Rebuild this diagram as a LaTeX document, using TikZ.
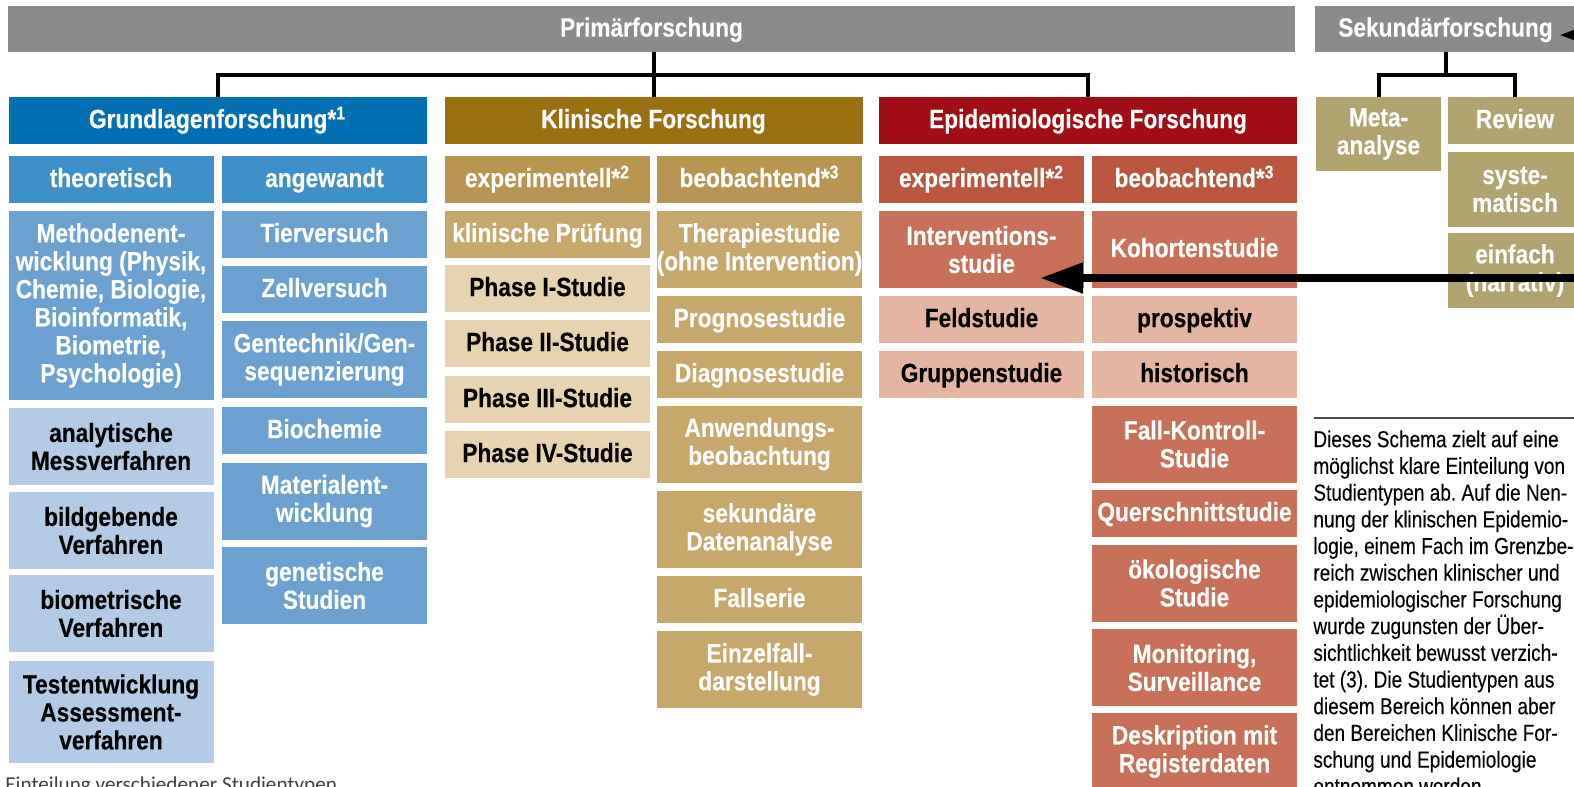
\documentclass[tikz,border=0pt]{standalone}
\usepackage{fontspec}
\usepackage{tikz}
\usetikzlibrary{arrows.meta,calc}
\newfontfamily\kastenfont{Liberation Sans}[FakeStretch=0.86, FakeBold=0.3]
\newfontfamily\fliessfont{Liberation Sans}[FakeStretch=0.82, FakeBold=0.2]
\newfontfamily\unterschriftfont{Carlito}
\definecolor{grau}{RGB}{139,139,141}
\definecolor{blauD}{RGB}{0,112,178}
\definecolor{blauM}{RGB}{63,143,201}
\definecolor{blauH}{RGB}{106,161,209}
\definecolor{blauL}{RGB}{179,203,230}
\definecolor{goldD}{RGB}{154,111,15}
\definecolor{goldM}{RGB}{184,148,80}
\definecolor{goldH}{RGB}{200,167,106}
\definecolor{goldL}{RGB}{231,211,176}
\definecolor{rotD}{RGB}{160,13,20}
\definecolor{rotM}{RGB}{186,86,62}
\definecolor{rotH}{RGB}{200,113,88}
\definecolor{rotL}{RGB}{229,181,162}
\definecolor{khaki}{RGB}{176,163,110}
\tikzset{
    kasten/.style={rectangle, inner sep=0pt, align=center, text=white,
        font=\kastenfont\bfseries\fontsize{13.2pt}{14pt}\selectfont,
        minimum width=102.5pt, minimum height=23.5pt}
}
\tikzset{
    eins/.style={text height=9.6pt, text depth=2pt},
    zwei/.style={minimum height=38.5pt},
    breit/.style={minimum width=209pt},
    hell/.style={text=black}
}
\tikzset{
    ast/.style={line width=2pt},
    grosspfeil/.style={line width=4pt, -{Triangle[length=21.5pt, width=14.5pt]}},
    kleinpfeil/.style={line width=1.5pt, -{Triangle[length=10pt, width=7pt]}}
}

\begin{document}
\begin{tikzpicture}[x=0.5pt, y=-0.5pt]
  \useasboundingbox (0,0) rectangle (1574,787);

  % oberste Ebene
  \node (prim) [kasten, eins, fill=grau, minimum width=643.5pt, minimum height=23pt] at (651.5, 29) {Primärforschung};
  \node (sek) [kasten, eins, fill=grau, minimum width=130.5pt, minimum height=23pt] at (1445.5, 29) {Sekundärforschung};

  % Bereiche
  \node (grund) [kasten, eins, breit, fill=blauD] at (217.5, 120.5) {Grundlagenforschung*\textsuperscript{1}};
  \node (klin) [kasten, eins, breit, fill=goldD] at (653.5, 120.5) {Klinische Forschung};
  \node (epid) [kasten, eins, breit, fill=rotD] at (1088, 120.5) {Epidemiologische Forschung};

  \node (theo) [kasten, eins, fill=blauM] at (111, 179.5) {theoretisch};
  \node (angew) [kasten, eins, fill=blauM] at (324.5, 179.5) {angewandt};
  \node (kexp) [kasten, eins, fill=goldM] at (547.5, 179.5) {experimentell*\textsuperscript{2}};
  \node (kbeo) [kasten, eins, fill=goldM] at (759.5, 179.5) {beobachtend*\textsuperscript{3}};
  \node (eexp) [kasten, eins, fill=rotM] at (981.5, 179.5) {experimentell*\textsuperscript{2}};
  \node (ebeo) [kasten, eins, fill=rotM] at (1194.5, 179.5) {beobachtend*\textsuperscript{3}};

  % Grundlagenforschung, theoretisch
  \node (meth) [kasten, fill=blauH, minimum height=94.5pt] at (111, 305.5) {Methodenent-\\wicklung (Physik,\\Chemie, Biologie,\\Bioinformatik,\\Biometrie,\\Psychologie)};
  \node (anal) [kasten, zwei, hell, fill=blauL] at (111, 446.5) {analytische\\Messverfahren};
  \node (bild) [kasten, zwei, hell, fill=blauL] at (111, 530.5) {bildgebende\\Verfahren};
  \node (biom) [kasten, zwei, hell, fill=blauL] at (111, 613.5) {biometrische\\Verfahren};
  \node (test) [kasten, hell, fill=blauL, minimum height=51pt] at (111, 712) {Testentwicklung\\Assessment-\\verfahren};

  % Grundlagenforschung, angewandt
  \node (tier) [kasten, eins, fill=blauH] at (324.5, 234.5) {Tierversuch};
  \node (zell) [kasten, eins, fill=blauH] at (324.5, 289.5) {Zellversuch};
  \node (gen) [kasten, zwei, fill=blauH] at (324.5, 359.5) {Gentechnik/Gen-\\sequenzierung};
  \node (bioch) [kasten, eins, fill=blauH] at (324.5, 430.5) {Biochemie};
  \node (mat) [kasten, zwei, fill=blauH] at (324.5, 501) {Materialent-\\wicklung};
  \node (genet) [kasten, zwei, fill=blauH] at (324.5, 585.5) {genetische\\Studien};

  % Klinische Forschung
  \node (pruef) [kasten, eins, fill=goldH] at (547.5, 234.5) {klinische Prüfung};
  \node (ph1) [kasten, eins, hell, fill=goldL] at (547.5, 288.5) {Phase I-Studie};
  \node (ph2) [kasten, eins, hell, fill=goldL] at (547.5, 343.5) {Phase II-Studie};
  \node (ph3) [kasten, eins, hell, fill=goldL] at (547.5, 399.5) {Phase III-Studie};
  \node (ph4) [kasten, eins, hell, fill=goldL] at (547.5, 454.5) {Phase IV-Studie};

  \node (ther) [kasten, zwei, fill=goldH] at (759.5, 249.5) {Therapiestudie\\(ohne Intervention)};
  \node (prog) [kasten, eins, fill=goldH] at (759.5, 319.5) {Prognosestudie};
  \node (diag) [kasten, eins, fill=goldH] at (759.5, 374.5) {Diagnosestudie};
  \node (anw) [kasten, zwei, fill=goldH] at (759.5, 444) {Anwendungs-\\beobachtung};
  \node (sekd) [kasten, zwei, fill=goldH] at (759.5, 529.5) {sekundäre\\Datenanalyse};
  \node (fallser) [kasten, eins, fill=goldH] at (759.5, 599.5) {Fallserie};
  \node (einz) [kasten, zwei, fill=goldH] at (759.5, 669.5) {Einzelfall-\\darstellung};

  % Epidemiologische Forschung
  \node (interv) [kasten, zwei, fill=rotH] at (981.5, 249.5) {Interventions-\\studie};
  \node (feld) [kasten, eins, hell, fill=rotL] at (981.5, 319.5) {Feldstudie};
  \node (grupp) [kasten, eins, hell, fill=rotL] at (981.5, 374.5) {Gruppenstudie};

  \node (koh) [kasten, eins, zwei, fill=rotH] at (1194.5, 249.5) {Kohortenstudie};
  \node (prosp) [kasten, eins, hell, fill=rotL] at (1194.5, 319.5) {prospektiv};
  \node (hist) [kasten, eins, hell, fill=rotL] at (1194.5, 374.5) {historisch};
  \node (fk) [kasten, zwei, fill=rotH] at (1194.5, 444) {Fall-Kontroll-\\Studie};
  \node (quer) [kasten, eins, fill=rotH] at (1194.5, 513.5) {Querschnittstudie};
  \node (oeko) [kasten, zwei, fill=rotH] at (1194.5, 583) {ökologische\\Studie};
  \node (moni) [kasten, zwei, fill=rotH] at (1194.5, 667.5) {Monitoring,\\Surveillance};
  \node (desk) [kasten, zwei, fill=rotH] at (1194.5, 751.5) {Deskription mit\\Registerdaten};

  % Sekundaerforschung
  \node (meta) [kasten, fill=khaki, minimum width=62.5pt, minimum height=37pt] at (1378.5, 134) {Meta-\\analyse};
  \node (review) [kasten, eins, fill=khaki, minimum width=67pt] at (1515, 120.5) {Review};
  \node (syst) [kasten, fill=khaki, minimum width=67pt, minimum height=37.5pt] at (1515, 189.5) {syste-\\matisch};
  \node (einf) [kasten, fill=khaki, minimum width=67pt, minimum height=37.5pt] at (1515, 270.5) {einfach\\(narrativ)};

  % Verbindungen
  \draw[ast] (prim.south -| klin.north) -- (klin.north);
  \draw[ast] (grund.north) |- ($(prim.south)+(0,23)$) -| (epid.north);
  \draw[ast] (sek.south) -- ++(0,23) coordinate (sekknoten);
  \draw[ast] (meta.north) |- (sekknoten) -| (review.north);

  % Pfeile
  \coordinate (pfeilstart) at (1640, 278);
  \coordinate (pfeilziel) at (1040, 278);
  \draw[grosspfeil] (pfeilstart) -- (pfeilziel);
  \coordinate (sekpfeil) at (1640, 35);
  \coordinate (sekziel) at (1560, 35);
  \draw[kleinpfeil] (sekpfeil) -- (sekziel);

  % Erlaeuterung
  \draw[line width=0.6pt, black!70] (1314, 418) -- (1600, 418);
  \node (erlaeuterung) [anchor=north west, inner sep=0pt, align=left,
    font=\fliessfont\fontsize{11.6pt}{13.35pt}\selectfont\frenchspacing] at (1313, 430)
    {Dieses Schema zielt auf eine\\möglichst klare Einteilung von\\Studientypen ab. Auf die Nen-\\nung der klinischen Epidemio-\\logie, einem Fach im Grenzbe-\\reich zwischen klinischer und\\epidemiologischer Forschung\\wurde zugunsten der Über-\\sichtlichkeit bewusst verzich-\\tet (3). Die Studientypen aus\\diesem Bereich können aber\\den Bereichen Klinische For-\\schung und Epidemiologie\\entnommen werden};

  \node (unterschrift) [anchor=north west, inner sep=0pt, text=black!75,
    font=\unterschriftfont\fontsize{10.6pt}{12pt}\selectfont] at (5, 776)
    {Einteilung verschiedener Studientypen};
\end{tikzpicture}
\end{document}
